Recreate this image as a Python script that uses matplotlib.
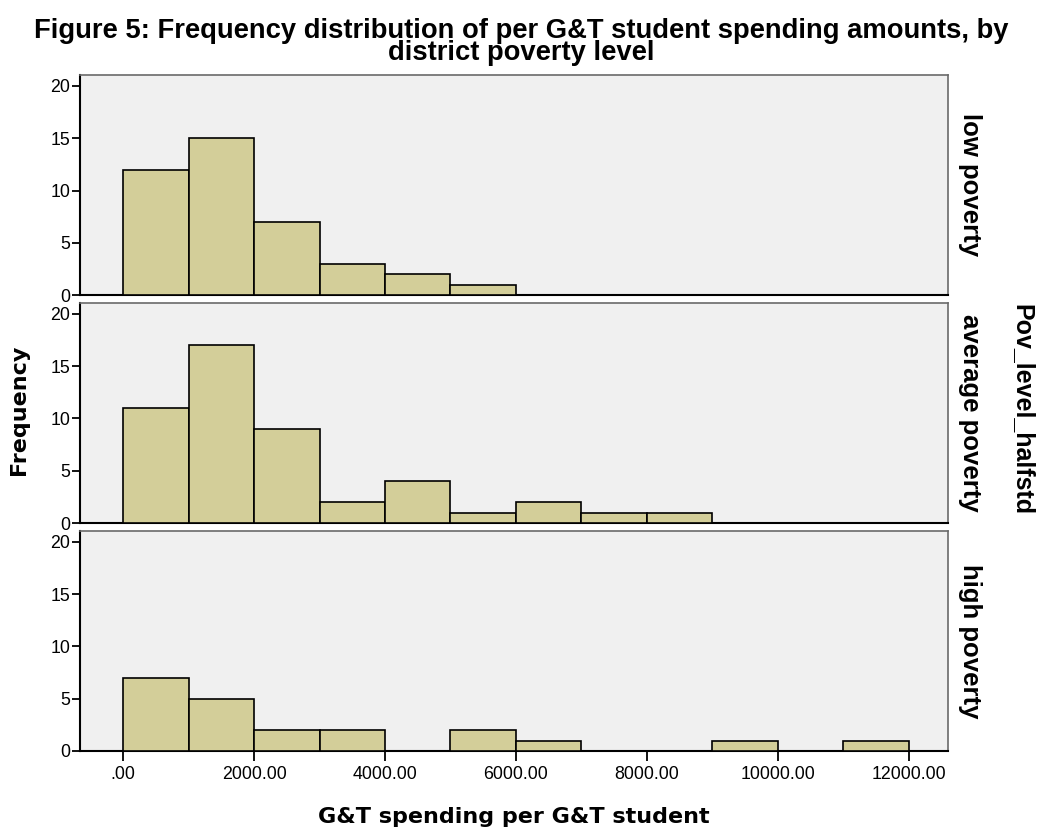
import numpy as np
import matplotlib.pyplot as plt

plt.rcParams['font.family'] = ['Liberation Sans', 'DejaVu Sans']

# bin edges of the histograms (G&T spending per student)
bin_width = 1000
groups = ['low poverty', 'average poverty', 'high poverty']

# frequency counts per 1000-dollar bin, starting at 0
low_counts = [12, 15, 7, 3, 2, 1]
avg_counts = [11, 17, 9, 2, 4, 1, 2, 1, 1]
high_counts = [7, 5, 2, 2, 0, 2, 1, 0, 0, 1, 0, 1]

xticks = [0, 2000, 4000, 6000, 8000, 10000, 12000]
xtick_labels = ['.00', '2000.00', '4000.00', '6000.00', '8000.00', '10000.00', '12000.00']
yticks = [0, 5, 10, 15, 20]

bar_color = '#d3ce99'
panel_bg = '#f0f0f0'

fig, axes = plt.subplots(3, 1, figsize=(10.37, 8.27), dpi=100, sharex=True)
fig.subplots_adjust(left=0.0771, right=0.9142, top=0.9093, bottom=0.0919, hspace=0.036)

for ax, label, counts in zip(axes, groups, [low_counts, avg_counts, high_counts]):
    counts = np.array(counts)
    left_edges = np.arange(len(counts)) * bin_width
    keep = counts > 0
    ax.bar(left_edges[keep], counts[keep], width=bin_width, align='edge',
           color=bar_color, edgecolor='black', linewidth=1.2, zorder=3)
    ax.set_facecolor(panel_bg)
    ax.set_xlim(-660, 12600)
    ax.set_ylim(0, 21.05)
    ax.set_yticks(yticks)
    ax.tick_params(axis='y', direction='out', length=6, width=1.3, labelsize=12.8,
                   pad=1, colors='black')
    ax.tick_params(axis='x', direction='out', length=7, width=1.3, labelsize=12.8, pad=4)
    for side in ['top', 'right']:
        ax.spines[side].set_color('#6a6a6a')
        ax.spines[side].set_linewidth(1.2)
    for side in ['left', 'bottom']:
        ax.spines[side].set_color('black')
        ax.spines[side].set_linewidth(1.5)
    ax.text(1.011, 0.5, label, transform=ax.transAxes, rotation=-90,
            ha='left', va='center', fontsize=18.5, fontweight='bold')
    if ax is not axes[-1]:
        ax.tick_params(axis='x', length=0)

axes[-1].set_xticks(xticks)
axes[-1].set_xticklabels(xtick_labels)
axes[-1].set_xlabel('G&T spending per G&T student', fontsize=16, fontweight='bold',
                    family='DejaVu Sans', labelpad=17)

fig.text(0.018, 0.505, 'Frequency', rotation=90, ha='center', va='center',
         fontsize=16, fontweight='bold', family='DejaVu Sans')
fig.text(0.9855, 0.505, 'Pov_level_halfstd', rotation=-90, ha='center', va='center',
         fontsize=18, fontweight='bold')
fig.suptitle('Figure 5: Frequency distribution of per G&T student spending amounts, by\n'
             'district poverty level', x=0.503, y=0.978, fontsize=19.7,
             fontweight='bold', linespacing=0.78)

fig.savefig('out.png', dpi=100)
